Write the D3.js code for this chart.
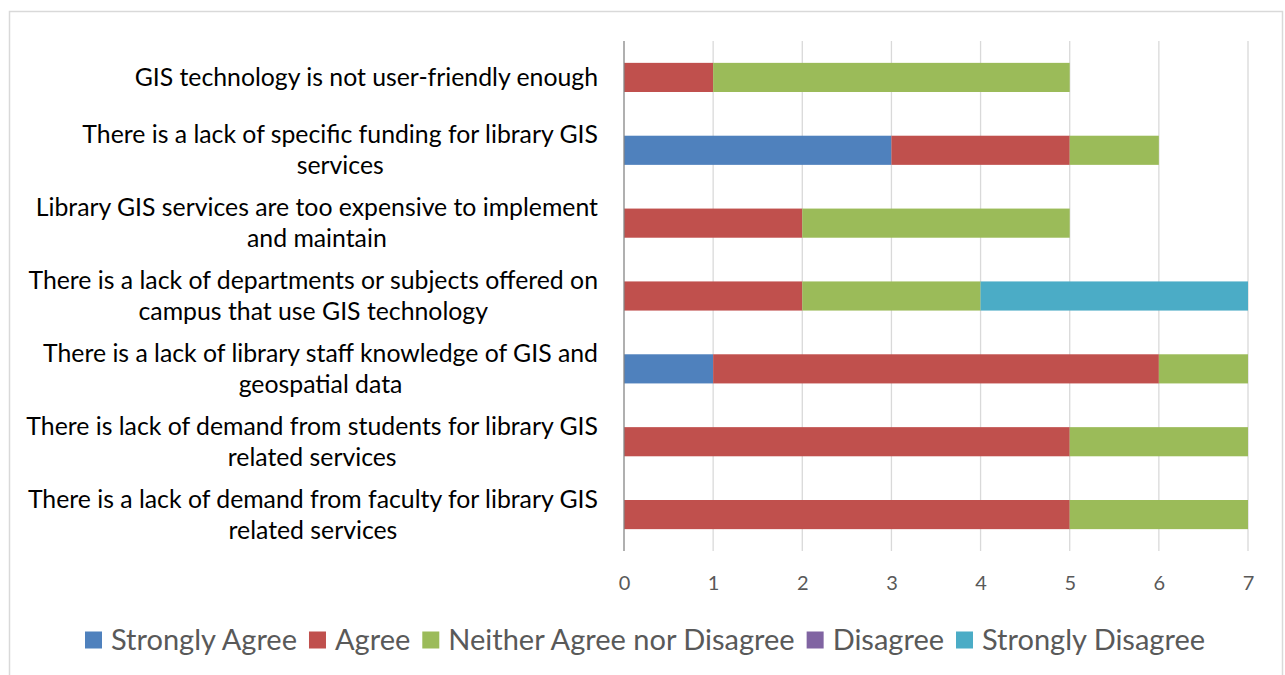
<!DOCTYPE html>
<html>
<head>
<meta charset="utf-8">
<script src="https://cdn.jsdelivr.net/npm/d3@7"></script>
<style>
  body { margin: 0; background: #fff; }
  text { font-family: Lato, "Open Sans", sans-serif; }
</style>
</head>
<body>
<div id="chart-area"></div>
<script>
// categories, top to bottom, already split into lines the way the picture wraps them
var categories = [
    ["GIS technology is not user-friendly enough"],
    ["There is a lack of specific funding for library GIS", "services"],
    ["Library GIS services are too expensive to implement", "and maintain"],
    ["There is a lack of departments or subjects offered on", "campus that use GIS technology"],
    ["There is a lack of library staff knowledge of GIS and", "geospatial data"],
    ["There is lack of demand from students for library GIS", "related services"],
    ["There is a lack of demand from faculty for library GIS", "related services"]
];
var seriesNames = ["Strongly Agree", "Agree", "Neither Agree nor Disagree", "Disagree", "Strongly Disagree"];
var seriesColors = ["#4F81BD", "#C0504D", "#9BBB59", "#8064A2", "#4BACC6"];

var stronglyAgree    = [0, 3, 0, 0, 1, 0, 0];
var agree            = [1, 2, 2, 2, 5, 5, 5];
var neither          = [4, 1, 3, 2, 1, 2, 2];
var disagree         = [0, 0, 0, 0, 0, 0, 0];
var stronglyDisagree = [0, 0, 0, 3, 0, 0, 0];
var xTicks = [0, 1, 2, 3, 4, 5, 6, 7];

var W = 1285, H = 675;
var margin = { left: 624, right: 37, top: 41, bottom: 124 };
var width = W - margin.left - margin.right,
    height = H - margin.top - margin.bottom;

var svg = d3.select("#chart-area").append("svg")
    .attr("width", W)
    .attr("height", H);

// chart frame
svg.append("rect")
    .attr("x", 9.5).attr("y", 11.5)
    .attr("width", 1273).attr("height", 680)
    .attr("fill", "none")
    .attr("stroke", "#d9d9d9")
    .attr("stroke-width", 1.5);

var g = svg.append("g")
    .attr("transform", "translate(" + margin.left + "," + margin.top + ")");

var x = d3.scaleLinear().domain([0, 7]).range([0, width]);
var y = d3.scaleBand()
    .domain(d3.range(categories.length))
    .range([0, height])
    .paddingInner(0.6)
    .paddingOuter(0.3);

// gridlines
g.selectAll(".grid").data(xTicks.slice(1)).enter()
    .append("line")
    .attr("x1", function(d) { return x(d); })
    .attr("x2", function(d) { return x(d); })
    .attr("y1", 0).attr("y2", height)
    .attr("stroke", "#d9d9d9")
    .attr("stroke-width", 1.3);

// stack the series
var rows = categories.map(function(c, i) {
    return { i: i, s0: stronglyAgree[i], s1: agree[i], s2: neither[i], s3: disagree[i], s4: stronglyDisagree[i] };
});
var stack = d3.stack().keys(["s0", "s1", "s2", "s3", "s4"]);
var layers = stack(rows);

g.selectAll(".layer").data(layers).enter()
    .append("g")
    .attr("fill", function(d, k) { return seriesColors[k]; })
    .selectAll("rect").data(function(d) { return d; }).enter()
    .append("rect")
    .attr("x", function(d) { return x(d[0]); })
    .attr("width", function(d) { return x(d[1]) - x(d[0]); })
    .attr("y", function(d) { return y(d.data.i); })
    .attr("height", y.bandwidth());

// y axis line
g.append("line")
    .attr("x1", 0).attr("x2", 0)
    .attr("y1", 0).attr("y2", height)
    .attr("stroke", "#868686")
    .attr("stroke-width", 1.3);

// x tick labels
var xAxis = g.append("g")
    .attr("transform", "translate(0," + height + ")")
    .call(d3.axisBottom(x).tickValues(xTicks).tickFormat(d3.format("d")).tickSize(0).tickPadding(0));
xAxis.select(".domain").remove();
xAxis.selectAll("text")
    .attr("y", 32)
    .attr("dy", "0.35em")
    .attr("fill", "#595959")
    .style("font-family", "Lato, sans-serif")
    .style("font-size", "20px");

// category labels: lines centred on each other, block right aligned
var labelRight = -26, lineH = 31;
categories.forEach(function(lines, i) {
    var cy = y(i) + y.bandwidth() / 2;
    var grp = g.append("g");
    var texts = lines.map(function(l, k) {
        return grp.append("text")
            .attr("y", cy + (k - (lines.length - 1) / 2) * lineH)
            .attr("dy", "0.35em")
            .attr("text-anchor", "middle")
            .attr("fill", "#000")
            .style("font-size", "24.8px")
            .text(l);
    });
    var maxW = d3.max(texts, function(t) { return t.node().getComputedTextLength(); });
    texts.forEach(function(t) { t.attr("x", labelRight - maxW / 2); });
});

// legend
var legend = svg.append("g");
var lx = 85, ly = 640;
seriesNames.forEach(function(name, k) {
    legend.append("rect")
        .attr("x", lx).attr("y", ly - 8.5)
        .attr("width", 17).attr("height", 17)
        .attr("fill", seriesColors[k]);
    var t = legend.append("text")
        .attr("x", lx + 26).attr("y", ly)
        .attr("dy", "0.35em")
        .attr("fill", "#595959")
        .style("font-size", "29px")
        .text(name);
    lx += 26 + t.node().getComputedTextLength() + 12;
});
</script>
</body>
</html>
